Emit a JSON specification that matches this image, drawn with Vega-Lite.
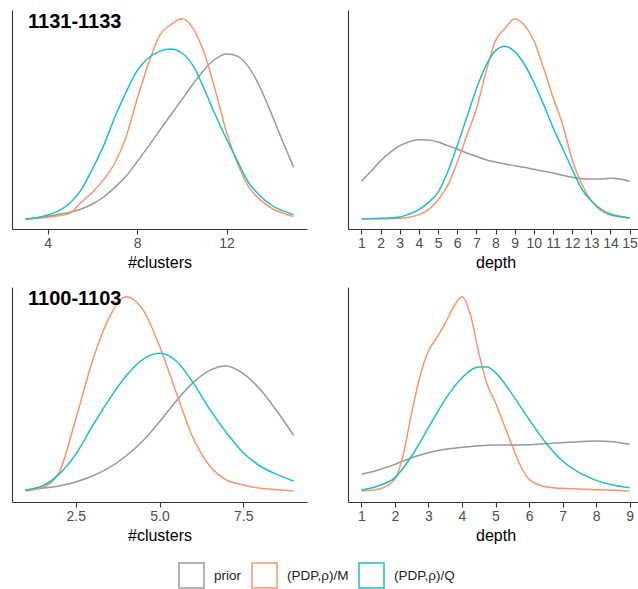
{
  "$schema": "https://vega.github.io/schema/vega-lite/v6.json",
  "padding": {"left": 12, "top": 10, "right": 0, "bottom": 0},
  "background": "white",
  "config": {
    "view": {"stroke": null},
    "font": "Liberation Sans",
    "axis": {"grid": false, "domainColor": "#333333", "domainWidth": 1.1, "tickColor": "#333333", "tickWidth": 1.1, "tickSize": 5, "labelColor": "#4d4d4d", "labelFontSize": 14, "labelPadding": 2, "titleFontSize": 16, "titleFontWeight": "normal", "titleColor": "#000000", "titlePadding": 4, "labelFont": "Liberation Sans", "titleFont": "Liberation Sans"},
    "title": {"fontSize": 20, "fontWeight": "bold", "color": "#000000", "anchor": "start", "baseline": "top", "offset": -22, "dx": 16, "dy": 0, "font": "Liberation Sans"},
    "line": {"strokeWidth": 1.5, "interpolate": "monotone"}
  },
  "datasets": {
    "tl": [
      {"x":3,"s":"prior","d":0},{"x":3.5,"s":"prior","d":3},{"x":4,"s":"prior","d":8},{"x":4.5,"s":"prior","d":14},{"x":5,"s":"prior","d":20},{"x":5.5,"s":"prior","d":30},{"x":6,"s":"prior","d":45},{"x":6.5,"s":"prior","d":66},{"x":7,"s":"prior","d":95},{"x":7.5,"s":"prior","d":128},{"x":8,"s":"prior","d":172},{"x":8.5,"s":"prior","d":218},{"x":9,"s":"prior","d":265},{"x":9.5,"s":"prior","d":312},{"x":10,"s":"prior","d":358},{"x":10.5,"s":"prior","d":405},{"x":11,"s":"prior","d":448},{"x":11.5,"s":"prior","d":480},{"x":12,"s":"prior","d":495},{"x":12.5,"s":"prior","d":488},{"x":13,"s":"prior","d":455},{"x":13.5,"s":"prior","d":395},{"x":14,"s":"prior","d":317},{"x":14.5,"s":"prior","d":235},{"x":15,"s":"prior","d":155},
      {"x":3,"s":"M","d":0},{"x":3.5,"s":"M","d":2},{"x":4,"s":"M","d":5},{"x":4.5,"s":"M","d":10},{"x":5,"s":"M","d":18},{"x":5.5,"s":"M","d":50},{"x":6,"s":"M","d":80},{"x":6.5,"s":"M","d":118},{"x":7,"s":"M","d":168},{"x":7.5,"s":"M","d":245},{"x":8,"s":"M","d":360},{"x":8.5,"s":"M","d":465},{"x":9,"s":"M","d":550},{"x":9.5,"s":"M","d":583},{"x":10,"s":"M","d":601},{"x":10.5,"s":"M","d":572},{"x":11,"s":"M","d":498},{"x":11.5,"s":"M","d":385},{"x":12,"s":"M","d":260},{"x":12.5,"s":"M","d":165},{"x":13,"s":"M","d":95},{"x":13.5,"s":"M","d":58},{"x":14,"s":"M","d":33},{"x":14.5,"s":"M","d":18},{"x":15,"s":"M","d":8},
      {"x":3,"s":"Q","d":0},{"x":3.5,"s":"Q","d":4},{"x":4,"s":"Q","d":12},{"x":4.5,"s":"Q","d":25},{"x":5,"s":"Q","d":48},{"x":5.5,"s":"Q","d":88},{"x":6,"s":"Q","d":150},{"x":6.5,"s":"Q","d":220},{"x":7,"s":"Q","d":305},{"x":7.5,"s":"Q","d":380},{"x":8,"s":"Q","d":445},{"x":8.5,"s":"Q","d":483},{"x":9,"s":"Q","d":503},{"x":9.5,"s":"Q","d":510},{"x":10,"s":"Q","d":498},{"x":10.5,"s":"Q","d":460},{"x":11,"s":"Q","d":390},{"x":11.5,"s":"Q","d":312},{"x":12,"s":"Q","d":240},{"x":12.5,"s":"Q","d":172},{"x":13,"s":"Q","d":108},{"x":13.5,"s":"Q","d":70},{"x":14,"s":"Q","d":42},{"x":14.5,"s":"Q","d":25},{"x":15,"s":"Q","d":13}
    ],
    "tr": [
      {"x":1,"s":"prior","d":113},{"x":1.5,"s":"prior","d":143},{"x":2,"s":"prior","d":175},{"x":2.5,"s":"prior","d":200},{"x":3,"s":"prior","d":220},{"x":3.5,"s":"prior","d":232},{"x":4,"s":"prior","d":238},{"x":4.5,"s":"prior","d":237},{"x":5,"s":"prior","d":231},{"x":5.5,"s":"prior","d":220},{"x":6,"s":"prior","d":210},{"x":6.5,"s":"prior","d":198},{"x":7,"s":"prior","d":188},{"x":7.5,"s":"prior","d":178},{"x":8,"s":"prior","d":171},{"x":8.5,"s":"prior","d":165},{"x":9,"s":"prior","d":160},{"x":9.5,"s":"prior","d":155},{"x":10,"s":"prior","d":149},{"x":10.5,"s":"prior","d":143},{"x":11,"s":"prior","d":138},{"x":11.5,"s":"prior","d":131},{"x":12,"s":"prior","d":125},{"x":12.5,"s":"prior","d":121},{"x":13,"s":"prior","d":120},{"x":13.5,"s":"prior","d":120},{"x":14,"s":"prior","d":122},{"x":14.5,"s":"prior","d":120},{"x":15,"s":"prior","d":113},
      {"x":1,"s":"M","d":0},{"x":2,"s":"M","d":1},{"x":3,"s":"M","d":2},{"x":3.5,"s":"M","d":5},{"x":4,"s":"M","d":13},{"x":4.5,"s":"M","d":28},{"x":5,"s":"M","d":58},{"x":5.5,"s":"M","d":100},{"x":6,"s":"M","d":170},{"x":6.5,"s":"M","d":250},{"x":7,"s":"M","d":330},{"x":7.5,"s":"M","d":440},{"x":8,"s":"M","d":535},{"x":8.5,"s":"M","d":572},{"x":9,"s":"M","d":601},{"x":9.5,"s":"M","d":582},{"x":10,"s":"M","d":535},{"x":10.5,"s":"M","d":455},{"x":11,"s":"M","d":365},{"x":11.5,"s":"M","d":285},{"x":12,"s":"M","d":178},{"x":12.5,"s":"M","d":105},{"x":13,"s":"M","d":55},{"x":13.5,"s":"M","d":25},{"x":14,"s":"M","d":12},{"x":14.5,"s":"M","d":6},{"x":15,"s":"M","d":3},
      {"x":1,"s":"Q","d":0},{"x":2,"s":"Q","d":2},{"x":3,"s":"Q","d":6},{"x":3.5,"s":"Q","d":15},{"x":4,"s":"Q","d":28},{"x":4.5,"s":"Q","d":50},{"x":5,"s":"Q","d":80},{"x":5.5,"s":"Q","d":140},{"x":6,"s":"Q","d":220},{"x":6.5,"s":"Q","d":305},{"x":7,"s":"Q","d":390},{"x":7.5,"s":"Q","d":460},{"x":8,"s":"Q","d":505},{"x":8.5,"s":"Q","d":518},{"x":9,"s":"Q","d":502},{"x":9.5,"s":"Q","d":465},{"x":10,"s":"Q","d":410},{"x":10.5,"s":"Q","d":345},{"x":11,"s":"Q","d":275},{"x":11.5,"s":"Q","d":212},{"x":12,"s":"Q","d":150},{"x":12.5,"s":"Q","d":90},{"x":13,"s":"Q","d":55},{"x":13.5,"s":"Q","d":30},{"x":14,"s":"Q","d":15},{"x":14.5,"s":"Q","d":8},{"x":15,"s":"Q","d":3}
    ],
    "bl": [
      {"x":1,"s":"prior","d":3},{"x":1.5,"s":"prior","d":8},{"x":2,"s":"prior","d":15},{"x":2.5,"s":"prior","d":27},{"x":3,"s":"prior","d":45},{"x":3.5,"s":"prior","d":70},{"x":4,"s":"prior","d":105},{"x":4.5,"s":"prior","d":150},{"x":5,"s":"prior","d":208},{"x":5.5,"s":"prior","d":270},{"x":6,"s":"prior","d":325},{"x":6.5,"s":"prior","d":362},{"x":7,"s":"prior","d":375},{"x":7.5,"s":"prior","d":352},{"x":8,"s":"prior","d":305},{"x":8.5,"s":"prior","d":240},{"x":9,"s":"prior","d":167},
      {"x":1,"s":"M","d":0},{"x":1.5,"s":"M","d":10},{"x":2,"s":"M","d":55},{"x":2.5,"s":"M","d":215},{"x":3,"s":"M","d":390},{"x":3.5,"s":"M","d":520},{"x":4,"s":"M","d":583},{"x":4.5,"s":"M","d":545},{"x":5,"s":"M","d":435},{"x":5.5,"s":"M","d":295},{"x":6,"s":"M","d":160},{"x":6.5,"s":"M","d":75},{"x":7,"s":"M","d":33},{"x":7.5,"s":"M","d":18},{"x":8,"s":"M","d":8},{"x":8.5,"s":"M","d":4},{"x":9,"s":"M","d":0},
      {"x":1,"s":"Q","d":3},{"x":1.5,"s":"Q","d":15},{"x":2,"s":"Q","d":50},{"x":2.5,"s":"Q","d":110},{"x":3,"s":"Q","d":195},{"x":3.5,"s":"Q","d":275},{"x":4,"s":"Q","d":345},{"x":4.5,"s":"Q","d":395},{"x":5,"s":"Q","d":413},{"x":5.5,"s":"Q","d":390},{"x":6,"s":"Q","d":325},{"x":6.5,"s":"Q","d":245},{"x":7,"s":"Q","d":175},{"x":7.5,"s":"Q","d":115},{"x":8,"s":"Q","d":75},{"x":8.5,"s":"Q","d":50},{"x":9,"s":"Q","d":30}
    ],
    "br": [
      {"x":1,"s":"prior","d":50},{"x":1.5,"s":"prior","d":63},{"x":2,"s":"prior","d":80},{"x":2.5,"s":"prior","d":100},{"x":3,"s":"prior","d":115},{"x":3.5,"s":"prior","d":125},{"x":4,"s":"prior","d":131},{"x":4.5,"s":"prior","d":136},{"x":5,"s":"prior","d":138},{"x":5.5,"s":"prior","d":138},{"x":6,"s":"prior","d":139},{"x":6.5,"s":"prior","d":142},{"x":7,"s":"prior","d":145},{"x":7.5,"s":"prior","d":148},{"x":8,"s":"prior","d":150},{"x":8.5,"s":"prior","d":148},{"x":9,"s":"prior","d":140},
      {"x":1,"s":"M","d":0},{"x":1.5,"s":"M","d":5},{"x":2,"s":"M","d":35},{"x":2.25,"s":"M","d":110},{"x":2.5,"s":"M","d":235},{"x":2.75,"s":"M","d":345},{"x":3,"s":"M","d":420},{"x":3.25,"s":"M","d":460},{"x":3.5,"s":"M","d":503},{"x":3.75,"s":"M","d":552},{"x":4,"s":"M","d":583},{"x":4.25,"s":"M","d":530},{"x":4.5,"s":"M","d":415},{"x":4.75,"s":"M","d":320},{"x":5,"s":"M","d":265},{"x":5.25,"s":"M","d":200},{"x":5.5,"s":"M","d":135},{"x":5.75,"s":"M","d":75},{"x":6,"s":"M","d":35},{"x":6.5,"s":"M","d":13},{"x":7,"s":"M","d":8},{"x":7.5,"s":"M","d":6},{"x":8,"s":"M","d":4},{"x":8.5,"s":"M","d":2},{"x":9,"s":"M","d":0},
      {"x":1,"s":"Q","d":3},{"x":1.5,"s":"Q","d":15},{"x":2,"s":"Q","d":40},{"x":2.5,"s":"Q","d":105},{"x":3,"s":"Q","d":190},{"x":3.5,"s":"Q","d":275},{"x":4,"s":"Q","d":340},{"x":4.5,"s":"Q","d":372},{"x":4.75,"s":"Q","d":372},{"x":5,"s":"Q","d":355},{"x":5.5,"s":"Q","d":290},{"x":6,"s":"Q","d":215},{"x":6.5,"s":"Q","d":145},{"x":7,"s":"Q","d":90},{"x":7.5,"s":"Q","d":55},{"x":8,"s":"Q","d":32},{"x":8.5,"s":"Q","d":18},{"x":9,"s":"Q","d":10}
    ]
  },
  "vconcat": [
    {
      "hconcat": [
        {
          "title": {"text": "1131-1133"},
          "width": 295, "height": 219,
          "data": {"name": "tl"},
          "mark": {"type": "line"},
          "encoding": {
            "x": {"field": "x", "type": "quantitative", "scale": {"domain": [2.4, 15.6], "nice": false, "zero": false}, "axis": {"values": [4, 8, 12], "title": "#clusters"}},
            "y": {"field": "d", "type": "quantitative", "scale": {"domain": [-30, 627], "nice": false}, "axis": {"labels": false, "ticks": false, "title": null}},
            "color": {"field": "s", "type": "nominal", "scale": {"domain": ["prior", "M", "Q"], "range": ["#999999", "#F8956E", "#1DBFC4"]}, "legend": {"orient": "none", "legendX": 166, "legendY": 552, "direction": "horizontal", "title": null, "symbolType": "square", "symbolSize": 625, "symbolStrokeWidth": 1.5, "symbolFillColor": "white", "labelFontSize": 13.5, "labelColor": "#222222", "labelFont": "Liberation Sans", "labelOffset": 9, "columnPadding": 7, "labelExpr": "datum.label == 'M' ? '(PDP,ρ)/M' : datum.label == 'Q' ? '(PDP,ρ)/Q' : datum.label"}}
          }
        },
        {
          "width": 295, "height": 219,
          "data": {"name": "tr"},
          "mark": {"type": "line"},
          "encoding": {
            "x": {"field": "x", "type": "quantitative", "scale": {"domain": [0.3, 15.7], "nice": false, "zero": false}, "axis": {"values": [1,2,3,4,5,6,7,8,9,10,11,12,13,14,15], "title": "depth"}},
            "y": {"field": "d", "type": "quantitative", "scale": {"domain": [-30, 627], "nice": false}, "axis": {"labels": false, "ticks": false, "title": null}},
            "color": {"field": "s", "type": "nominal"}
          }
        }
      ],
      "spacing": 41,
      "resolve": {"scale": {"x": "independent", "y": "independent"}}
    },
    {
      "hconcat": [
        {
          "title": {"text": "1100-1103"},
          "width": 295, "height": 215,
          "data": {"name": "bl"},
          "mark": {"type": "line"},
          "encoding": {
            "x": {"field": "x", "type": "quantitative", "scale": {"domain": [0.6, 9.4], "nice": false, "zero": false}, "axis": {"values": [2.5, 5, 7.5], "format": ".1f", "title": "#clusters"}},
            "y": {"field": "d", "type": "quantitative", "scale": {"domain": [-33, 612], "nice": false}, "axis": {"labels": false, "ticks": false, "title": null}},
            "color": {"field": "s", "type": "nominal"}
          }
        },
        {
          "width": 295, "height": 215,
          "data": {"name": "br"},
          "mark": {"type": "line"},
          "encoding": {
            "x": {"field": "x", "type": "quantitative", "scale": {"domain": [0.6, 9.4], "nice": false, "zero": false}, "axis": {"values": [1,2,3,4,5,6,7,8,9], "title": "depth"}},
            "y": {"field": "d", "type": "quantitative", "scale": {"domain": [-33, 612], "nice": false}, "axis": {"labels": false, "ticks": false, "title": null}},
            "color": {"field": "s", "type": "nominal"}
          }
        }
      ],
      "spacing": 41,
      "resolve": {"scale": {"x": "independent", "y": "independent"}}
    }
  ],
  "spacing": 17,
  "resolve": {"scale": {"x": "independent", "y": "independent"}}
}
